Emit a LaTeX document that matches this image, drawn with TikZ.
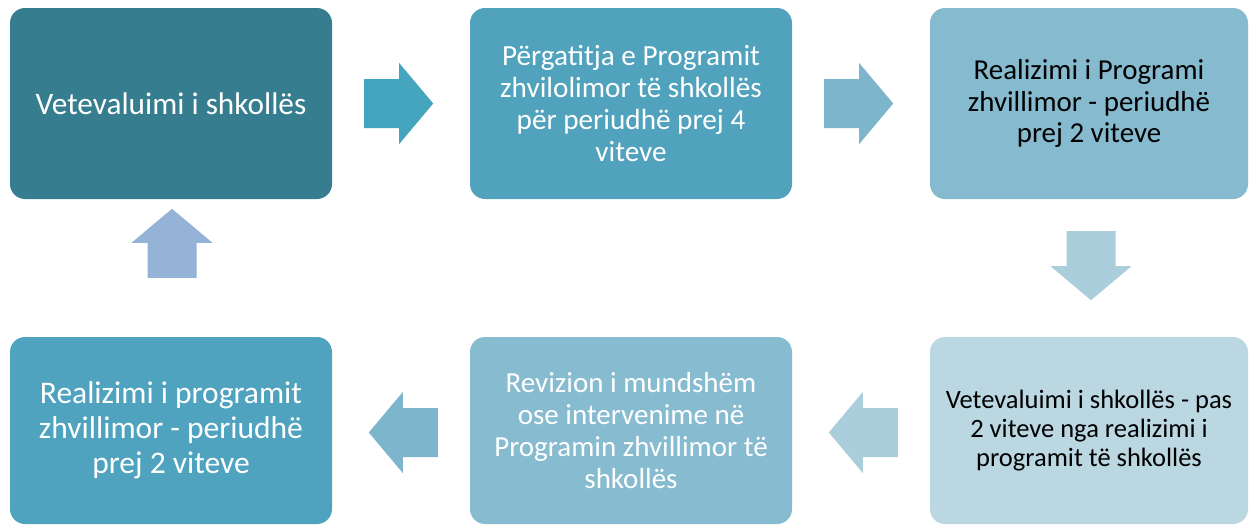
\documentclass[tikz,border=0pt]{standalone}
\usepackage{fontspec}
\setmainfont{Carlito}
\usetikzlibrary{calc}
\definecolor{cBa}{HTML}{367E8F}
\definecolor{cBb}{HTML}{50A2BD}
\definecolor{cBc}{HTML}{85BACF}
\definecolor{cBd}{HTML}{BAD7E2}
\definecolor{cBe}{HTML}{87BBD0}
\definecolor{cBf}{HTML}{50A3BE}
\definecolor{cAa}{HTML}{46A5BE}
\definecolor{cAb}{HTML}{7DB6CC}
\definecolor{cAc}{HTML}{AACEDC}
\definecolor{cAf}{HTML}{95B3D7}
\newcommand\blkarrow[3]{%
  \fill[#3, shift={(#1)}, rotate=#2] (0,-24.5) -- (35,-24.5) -- (35,-40.5) -- (69,0) -- (35,40.5) -- (35,24.5) -- (0,24.5) -- cycle;}
\tikzset{
  stepbox/.style={rectangle, rounded corners=15pt, inner sep=0pt, align=center,
    minimum width=322pt, minimum height=191pt},
  fsz/.style 2 args={font={\fontsize{#1}{#2}\selectfont}},
}
\begin{document}
\begin{tikzpicture}[x=1pt,y=-1pt]
\useasboundingbox (0,0) rectangle (1249,525);
\fill[white] (0,0) rectangle (1249,525);
\node[stepbox, fill=cBa, text=white, fsz={31.3}{34.4}] (b1) at (171,103.5) {Vetevaluimi i shkollës};
\node[stepbox, fill=cBb, text=white, fsz={29.2}{31.7}] (b2) at (631,103.5) {Përgatitja e Programit\\ zhvilolimor të shkollës\\ për periudhë prej 4\\ viteve};
\node[stepbox, fill=cBc, text=black, minimum width=318pt, fsz={28.9}{31.7}] (b3) at (1089,103.5) {Realizimi i Programi\\ zhvillimor - periudhë\\ prej 2 viteve};
\node[stepbox, fill=cBd, text=black, minimum width=318pt, minimum height=187pt, fsz={26.5}{29.1}] (b4) at (1089,430.5) {Vetevaluimi i shkollës - pas\\ 2 viteve nga realizimi i\\ programit të shkollës};
\node[stepbox, fill=cBe, text=white, minimum height=187pt, fsz={29}{31.8}] (b5) at (631,430.5) {Revizion i mundshëm\\ ose intervenime në\\ Programin zhvillimor të\\ shkollës};
\node[stepbox, fill=cBf, text=white, minimum height=187pt, fsz={31.5}{34.8}] (b6) at (171,430.5) {Realizimi i programit\\ zhvillimor - periudhë\\ prej 2 viteve};
\coordinate (t1) at ($(b1.east)+(32,0)$);
\coordinate (t2) at ($(b2.east)+(32,0)$);
\coordinate (t3) at ($(b3.south)+(2,32)$);
\coordinate (t4) at ($(b4.west)+(-32,2)$);
\coordinate (t5) at ($(b5.west)+(-32,2)$);
\coordinate (t6) at ($(b6.north)+(1,-59)$);
\blkarrow{t1}{0}{cAa}
\blkarrow{t2}{0}{cAb}
\blkarrow{t3}{-90}{cAc}
\blkarrow{t4}{180}{cAc}
\blkarrow{t5}{180}{cAb}
\blkarrow{t6}{90}{cAf}
\end{tikzpicture}
\end{document}
